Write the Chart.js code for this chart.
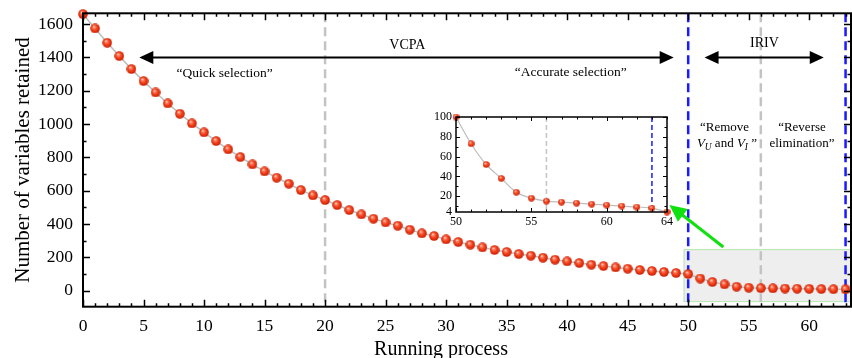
<!DOCTYPE html>
<html><head><meta charset="utf-8">
<script src="https://cdn.jsdelivr.net/npm/chart.js@4/dist/chart.umd.min.js"></script>
<style>
html,body{margin:0;padding:0;background:#fff;overflow:hidden}
#wrap{position:relative;width:852px;height:358px}
#main{position:absolute;left:0;top:0}
#inset{position:absolute;left:420px;top:105px}
</style></head><body>
<div id="wrap"><canvas id="main" width="852" height="358"></canvas><canvas id="inset" width="260" height="130"></canvas></div>
<script>
// ---------- data ----------
const runningProcess = [0,1,2,3,4,5,6,7,8,9,10,11,12,13,14,15,16,17,18,19,20,21,22,23,24,25,26,27,28,29,30,31,32,33,34,35,36,37,38,39,40,41,42,43,44,45,46,47,48,49,50,51,52,53,54,55,56,57,58,59,60,61,62,63,64];
const variablesRetained = [1660,1574,1488,1408,1330,1258,1190,1124,1062,1004,950,898,848,802,758,716,678,642,604,572,544,514,484,458,432,410,390,366,344,328,308,292,276,260,244,232,220,210,198,186,176,166,156,148,140,132,124,118,112,106,100,73,52,38,24,18,15,14,13,12,11,10,9,8,4];
const xTickLabels = [0,5,10,15,20,25,30,35,40,45,50,55,60];
const yTickLabels = [0,200,400,600,800,1000,1200,1400,1600];
const insetXTickLabels = [50,55,60,64];
const insetYTickLabels = [4,20,40,60,80,100];
const grayBoundaries = [20,56];
const blueBoundaries = [50,63];
const xTitle = 'Running process';
const yTitle = 'Number of variables retained';

const SERIF = "'Liberation Serif','Times New Roman',serif";
Chart.defaults.color = '#000';
Chart.defaults.font.family = SERIF;

function sphere(d){
  const c=document.createElement('canvas'); c.width=c.height=d;
  const g=c.getContext('2d'); const r=d/2;
  const gr=g.createRadialGradient(r*0.72,r*0.6,0,r,r,r);
  gr.addColorStop(0,'#ffffff');
  gr.addColorStop(0.22,'#ff8a6a');
  gr.addColorStop(0.55,'#f5401c');
  gr.addColorStop(1,'#c41c00');
  g.fillStyle=gr; g.beginPath(); g.arc(r,r,r-0.2,0,Math.PI*2); g.fill();
  return c;
}

function frame(chart,o){
  const {ctx,chartArea:a,scales:{x,y}}=chart;
  ctx.save(); ctx.strokeStyle='#000'; ctx.lineWidth=o.tw;
  const isMajor=(v,m)=>Math.abs(v/m-Math.round(v/m))<1e-6;
  ctx.beginPath();
  for(let v=Math.ceil(x.min/o.xm)*o.xm; v<=x.max+1e-9; v+=o.xm){
    const px=Math.round(x.getPixelForValue(v))+0.5; const L=isMajor(v,o.xM)?o.maj:o.min;
    ctx.moveTo(px,a.bottom); ctx.lineTo(px,a.bottom-L);
    ctx.moveTo(px,a.top); ctx.lineTo(px,a.top+L);
  }
  for(let v=Math.ceil(y.min/o.ym)*o.ym; v<=y.max+1e-9; v+=o.ym){
    const py=Math.round(y.getPixelForValue(v))+0.5; const L=isMajor(v,o.yM)?o.maj:o.min;
    ctx.moveTo(a.left,py); ctx.lineTo(a.left+L,py);
    ctx.moveTo(a.right,py); ctx.lineTo(a.right-L,py);
  }
  ctx.stroke();
  ctx.lineWidth=o.bw;
  ctx.strokeRect(a.left,a.top,a.right-a.left,a.bottom-a.top);
  // tick labels
  ctx.fillStyle='#000'; ctx.font=o.fs+'px '+SERIF;
  ctx.textAlign='center'; ctx.textBaseline='middle';
  o.xl.forEach(v=>ctx.fillText(String(v),x.getPixelForValue(v),a.bottom+o.xOff));
  ctx.textAlign='right';
  o.yl.forEach(v=>ctx.fillText(String(v),a.left-o.yOff,y.getPixelForValue(v)));
  ctx.restore();
}

function vdash(chart,v,color,w,dash){
  const {ctx,chartArea:a,scales:{x}}=chart;
  const px=x.getPixelForValue(v);
  ctx.save(); ctx.strokeStyle=color; ctx.lineWidth=w; ctx.setLineDash(dash);
  ctx.beginPath(); ctx.moveTo(px,a.top); ctx.lineTo(px,a.bottom); ctx.stroke(); ctx.restore();
}

function arrowHead(ctx,x0,y0,x1,y1,len,hw,color){
  const ang=Math.atan2(y1-y0,x1-x0);
  ctx.save(); ctx.fillStyle=color; ctx.translate(x1,y1); ctx.rotate(ang);
  ctx.beginPath(); ctx.moveTo(0,0); ctx.lineTo(-len,-hw); ctx.lineTo(-len,hw); ctx.closePath(); ctx.fill(); ctx.restore();
}

function dblArrow(chart,xa,xb,yv){
  const {ctx,scales:{x,y}}=chart;
  const p0=x.getPixelForValue(xa), p1=x.getPixelForValue(xb), py=y.getPixelForValue(yv);
  ctx.save(); ctx.strokeStyle='#000'; ctx.lineWidth=2;
  ctx.beginPath(); ctx.moveTo(p0+10,py); ctx.lineTo(p1-10,py); ctx.stroke(); ctx.restore();
  arrowHead(ctx,p1,py,p0,py,14,6.5,'#000');
  arrowHead(ctx,p0,py,p1,py,14,6.5,'#000');
}

function text(chart,s,xv,yv,size,style){
  const {ctx,scales:{x,y}}=chart;
  ctx.save(); ctx.fillStyle='#000'; ctx.font=(style||'')+' '+size+'px '+SERIF;
  ctx.textAlign='center'; ctx.textBaseline='middle';
  ctx.fillText(s,x.getPixelForValue(xv),y.getPixelForValue(yv)); ctx.restore();
}

function richLine(chart,parts,xv,yv,size){
  const {ctx,scales:{x,y}}=chart;
  ctx.save(); ctx.fillStyle='#000'; ctx.textBaseline='middle'; ctx.textAlign='left';
  const fontOf=p=>(p.i?'italic ':'')+(p.sub?size*0.72:size)+'px '+SERIF;
  let w=0; parts.forEach(p=>{ctx.font=fontOf(p); w+=ctx.measureText(p.t).width;});
  let cx=x.getPixelForValue(xv)-w/2; const cy=y.getPixelForValue(yv);
  parts.forEach(p=>{ctx.font=fontOf(p); ctx.fillText(p.t,cx,cy+(p.sub?4:0)); cx+=ctx.measureText(p.t).width;});
  ctx.restore();
}

const mainDecor={
  id:'mainDecor',
  beforeDatasetsDraw(chart){
    const {ctx,scales:{x,y}}=chart;
    const l=x.getPixelForValue(49.62), r=x.getPixelForValue(64), t=y.getPixelForValue(250), b=y.getPixelForValue(-62);
    ctx.save(); ctx.fillStyle='#eeeeee'; ctx.fillRect(l,t,r-l,b-t);
    ctx.strokeStyle='#bfe8b8'; ctx.lineWidth=1.2; ctx.strokeRect(l+0.5,t+0.5,r-l,b-t); ctx.restore();
    grayBoundaries.forEach(v=>vdash(chart,v,'#c3c3c3',2.5,[9,5]));
    blueBoundaries.forEach(v=>vdash(chart,v,'#1a1aff',2.5,[9,5]));
  },
  afterDatasetsDraw(chart){
    const {ctx,scales:{x,y}}=chart;
    frame(chart,{xm:1,xM:5,ym:100,yM:200,maj:7,min:3.5,tw:1.5,bw:2,fs:17.5,xl:xTickLabels,yl:yTickLabels,xOff:20,yOff:10});
    dblArrow(chart,4.65,48.8,1400);
    dblArrow(chart,51.35,61.2,1400);
    text(chart,'VCPA',26.8,1475,14);
    text(chart,'IRIV',56.3,1485,14);
    text(chart,'\u201CQuick selection\u201D',11.7,1305,13.5);
    text(chart,'\u201CAccurate selection\u201D',40.3,1310,13.5);
    text(chart,'\u201CRemove',53.0,978,13);
    richLine(chart,[{t:'V',i:1},{t:'U',i:1,sub:1},{t:' and '},{t:'V',i:1},{t:'I',i:1,sub:1},{t:' \u201D'}],53.2,884,13);
    text(chart,'\u201CReverse',59.4,978,13);
    text(chart,'elimination\u201D',59.4,884,13);
    // green arrow
    const x0=x.getPixelForValue(52.9), y0=y.getPixelForValue(262), x1=x.getPixelForValue(48.45), y1=y.getPixelForValue(515);
    ctx.save(); ctx.strokeStyle='#10e010'; ctx.lineWidth=3;
    const ang=Math.atan2(y1-y0,x1-x0);
    ctx.beginPath(); ctx.moveTo(x0,y0); ctx.lineTo(x1-14*Math.cos(ang),y1-14*Math.sin(ang)); ctx.stroke(); ctx.restore();
    arrowHead(ctx,x0,y0,x1,y1,17,8,'#10e010');
    // axis titles
    ctx.save(); ctx.fillStyle='#000'; ctx.font='21px '+SERIF; ctx.textAlign='center'; ctx.textBaseline='middle';
    ctx.translate(23,(chart.chartArea.top+chart.chartArea.bottom)/2); ctx.rotate(-Math.PI/2);
    ctx.fillText(yTitle,0,0); ctx.restore();
    ctx.save(); ctx.fillStyle='#000'; ctx.font='20px '+SERIF; ctx.textAlign='center'; ctx.textBaseline='alphabetic';
    ctx.fillText(xTitle,441,355); ctx.restore();
  }
};

const bigSphere=sphere(10), smallSphere=sphere(7);

new Chart(document.getElementById('main'),{
  type:'line',
  data:{labels:runningProcess,datasets:[{
    data:runningProcess.map((v,i)=>({x:v,y:variablesRetained[i]})),
    borderColor:'#bdbdbd',borderWidth:1.5,tension:0,
    pointStyle:bigSphere,pointRadius:5,clip:{left:10,top:10,right:0,bottom:10}
  }]},
  options:{
    responsive:false,animation:false,devicePixelRatio:1,
    layout:{autoPadding:false,padding:{top:13.3,right:1,left:0,bottom:0}},
    plugins:{legend:{display:false},tooltip:{enabled:false}},
    scales:{
      x:{type:'linear',min:0,max:63.45,
        afterFit:s=>{s.height=51.3;},
        grid:{display:false,drawTicks:false},border:{display:false},
        ticks:{display:false}},
      y:{type:'linear',min:-96,max:1665,
        afterFit:s=>{s.width=83;},
        grid:{display:false,drawTicks:false},border:{display:false},
        ticks:{display:false}}
    }
  },
  plugins:[mainDecor]
});

// ---------- inset ----------
const i0=runningProcess.indexOf(50);
const insetX=runningProcess.slice(i0), insetY=variablesRetained.slice(i0);
const insetDecor={
  id:'insetDecor',
  beforeDatasetsDraw(chart){
    vdash(chart,56,'#c3c3c3',1.5,[5,3]);
    vdash(chart,63,'#1a1aff',1.5,[5,3]);
  },
  afterDatasetsDraw(chart){
    frame(chart,{xm:1,xM:5,ym:10,yM:20,maj:4,min:2.5,tw:1,bw:1.5,fs:12,xl:insetXTickLabels,yl:insetYTickLabels,xOff:10,yOff:4});
  }
};
new Chart(document.getElementById('inset'),{
  type:'line',
  data:{labels:insetX,datasets:[{
    data:insetX.map((v,i)=>({x:v,y:insetY[i]})),
    borderColor:'#bdbdbd',borderWidth:1.2,tension:0.3,
    pointStyle:smallSphere,pointRadius:3.5,clip:false
  }]},
  options:{
    responsive:false,animation:false,devicePixelRatio:1,
    layout:{autoPadding:false,padding:{top:12,right:13,left:0,bottom:0}},
    plugins:{legend:{display:false},tooltip:{enabled:false}},
    scales:{
      x:{type:'linear',min:50,max:64,
        afterFit:s=>{s.height=23;},
        grid:{display:false,drawTicks:false},border:{display:false},
        ticks:{display:false}},
      y:{type:'linear',min:4,max:100,
        afterFit:s=>{s.width=36;},
        grid:{display:false,drawTicks:false},border:{display:false},
        ticks:{display:false}}
    }
  },
  plugins:[insetDecor]
});
</script>
</body></html>
